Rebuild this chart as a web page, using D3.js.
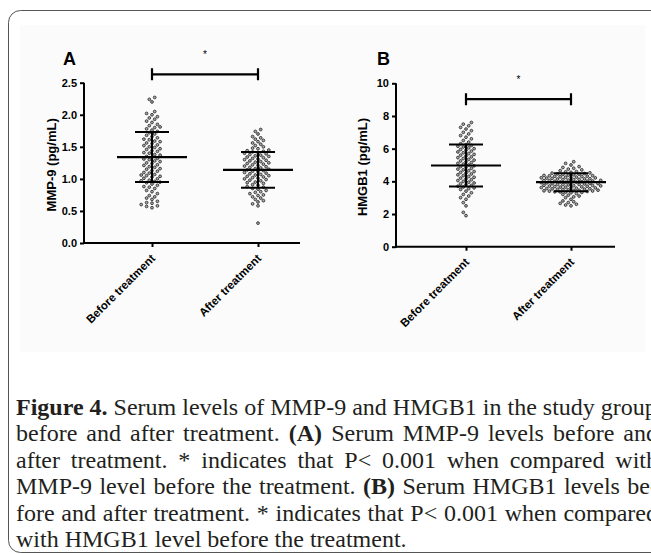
<!DOCTYPE html>
<html>
<head>
<meta charset="utf-8">
<script src="https://cdn.jsdelivr.net/npm/d3@7"></script>
<style>
  body { margin: 0; background: #fff; overflow: hidden; width: 651px; height: 554px; position: relative; }
  svg { position: absolute; left: 0; top: 0; }
  .caption { position: absolute; left: 16px; top: 394px; width: 642px;
    font-family: "Liberation Serif", "Times New Roman", serif; font-size: 24px; line-height: 26.4px; color: #231f20; }
  .caption div { white-space: nowrap; text-align: justify; text-align-last: justify; }
  .caption div.last { text-align-last: left; }
</style>
</head>
<body>
<div id="chart"></div>
<div class="caption">
  <div><b>Figure 4.</b> Serum levels of MMP-9 and HMGB1 in the study groups</div>
  <div>before and after treatment. <b>(A)</b> Serum MMP-9 levels before and</div>
  <div>after treatment. * indicates that P&lt; 0.001 when compared with</div>
  <div>MMP-9 level before the treatment. <b>(B)</b> Serum HMGB1 levels be-</div>
  <div>fore and after treatment. * indicates that P&lt; 0.001 when compared</div>
  <div class="last">with HMGB1 level before the treatment.</div>
</div>
<script>
// categories and values
var groups = ["Before treatment", "After treatment"];

var mmpBefore = [0.55,0.57,0.58,0.60,0.62,0.63,0.65,0.68,0.70,0.72,
  0.74,0.77,0.80,0.82,0.85,0.87,0.88,0.90,0.92,0.94,0.95,0.96,
  0.97,0.98,1.00,1.01,1.03,1.04,1.05,1.06,1.07,1.09,1.10,1.12,
  1.13,1.15,1.16,1.18,1.19,1.21,1.22,1.24,1.25,1.27,1.28,1.30,
  1.31,1.32,1.34,1.35,1.37,1.38,1.40,1.41,1.43,1.44,1.46,1.47,
  1.49,1.50,1.52,1.53,1.55,1.56,1.58,1.59,1.61,1.62,1.64,1.66,
  1.68,1.70,1.72,1.74,1.76,1.78,1.80,1.81,1.83,1.85,1.88,1.90,
  1.93,1.95,1.97,2.00,2.02,2.05,2.20,2.24,2.27];
var mmpAfter = [0.31,0.58,0.61,0.64,0.66,0.68,0.70,0.72,0.74,0.75,
  0.77,0.79,0.80,0.82,0.84,0.85,0.87,0.88,0.90,0.91,0.93,0.94,
  0.95,0.97,0.98,0.99,1.00,1.01,1.02,1.03,1.04,1.05,1.06,1.07,
  1.08,1.09,1.10,1.11,1.12,1.13,1.14,1.15,1.16,1.17,1.18,1.19,
  1.20,1.21,1.22,1.23,1.24,1.25,1.26,1.27,1.28,1.29,1.30,1.31,
  1.32,1.33,1.34,1.35,1.36,1.37,1.38,1.39,1.40,1.41,1.42,1.43,
  1.44,1.45,1.47,1.48,1.50,1.52,1.54,1.56,1.58,1.60,1.62,1.64,
  1.66,1.70,1.74,1.77];
var hmgbBefore = [1.90,2.10,2.50,2.70,2.90,3.00,3.10,3.20,3.30,3.40,
  3.50,3.55,3.60,3.65,3.70,3.75,3.80,3.85,3.90,3.95,4.00,4.05,
  4.10,4.15,4.20,4.25,4.30,4.35,4.40,4.45,4.50,4.55,4.60,4.65,
  4.70,4.75,4.80,4.85,4.90,4.95,5.00,5.05,5.10,5.15,5.20,5.25,
  5.30,5.35,5.40,5.45,5.50,5.55,5.60,5.65,5.70,5.75,5.80,5.85,
  5.90,5.95,6.00,6.05,6.10,6.15,6.20,6.25,6.30,6.40,6.50,6.60,
  6.70,6.80,6.90,7.00,7.10,7.20,7.30,7.40,7.50,7.60];
var hmgbAfter = [2.50,2.55,2.60,2.65,2.70,2.75,2.80,2.90,3.00,3.05,
  3.10,3.15,3.20,3.25,3.30,3.32,3.34,3.35,3.36,3.38,3.40,3.41,
  3.42,3.44,3.45,3.46,3.48,3.50,3.51,3.52,3.54,3.55,3.56,3.58,
  3.60,3.61,3.62,3.64,3.65,3.66,3.68,3.70,3.71,3.72,3.74,3.75,
  3.76,3.78,3.80,3.81,3.82,3.84,3.85,3.86,3.88,3.90,3.91,3.92,
  3.94,3.95,3.96,3.98,4.00,4.01,4.02,4.04,4.05,4.06,4.08,4.10,
  4.11,4.12,4.14,4.15,4.16,4.18,4.20,4.21,4.22,4.24,4.25,4.26,
  4.28,4.30,4.31,4.32,4.34,4.35,4.36,4.38,4.40,4.42,4.44,4.45,
  4.48,4.50,4.52,4.55,4.58,4.60,4.65,4.70,4.75,4.80,4.85,4.90,
  5.00,5.10,5.20];

// mean and SD of each group
var mmpMean = [1.34, 1.14], mmpSD = [0.39, 0.28];
var hmgbMean = [4.97, 3.95], hmgbSD = [1.28, 0.55];

var mmpTicks = [0, 0.5, 1.0, 1.5, 2.0, 2.5];
var hmgbTicks = [0, 2, 4, 6, 8, 10];

var svg = d3.select("#chart").append("svg")
  .attr("width", 651)
  .attr("height", 554);

// outer frame and figure area
svg.append("rect")
  .attr("x", 8.5).attr("y", 10.5)
  .attr("width", 720).attr("height", 542)
  .attr("rx", 12)
  .attr("fill", "#fff")
  .attr("stroke", "#555")
  .attr("stroke-width", 1);

svg.append("rect")
  .attr("x", 20).attr("y", 25)
  .attr("width", 625).attr("height", 327)
  .attr("fill", "#fbfbfb");

function drawPanel(opt) {
  var g = svg.append("g");

  var y = d3.scaleLinear().domain(opt.domain).range([opt.y0, opt.y1]);
  var x = d3.scalePoint().domain(groups).range(opt.xr);

  // y axis
  g.append("g")
    .attr("transform", "translate(" + opt.ax + ",0)")
    .call(d3.axisLeft(y).tickValues(opt.ticks).tickSize(4).tickPadding(3).tickFormat(opt.fmt))
    .call(function(a) {
      a.select(".domain").attr("stroke-width", 2).attr("d", "M0," + (opt.y0 + 1) + "V" + opt.y1);
      a.selectAll(".tick line").attr("stroke-width", 2);
      a.selectAll("text").attr("font-family", "Arial, 'Liberation Sans', sans-serif")
        .attr("font-weight", "bold").attr("font-size", 11).attr("fill", "#000");
    });

  // x axis
  g.append("g")
    .attr("transform", "translate(0," + opt.y0 + ")")
    .call(d3.axisBottom(x).tickSize(4).tickFormat(""))
    .call(function(a) {
      a.select(".domain").attr("stroke-width", 2).attr("d", "M" + opt.ax + ",0H" + opt.axEnd);
      a.selectAll(".tick line").attr("stroke-width", 2);
    });

  // rotated category labels
  g.selectAll(".xlab")
    .data(groups)
    .enter().append("text")
    .attr("class", "xlab")
    .attr("transform", function(d) { return "translate(" + (x(d) + 4) + "," + (opt.y0 + 16) + ") rotate(-45)"; })
    .attr("text-anchor", "end")
    .attr("font-family", "Arial, 'Liberation Sans', sans-serif")
    .attr("font-weight", "bold")
    .attr("font-size", 11.5)
    .text(function(d) { return d; });

  // y label
  g.append("text")
    .attr("transform", "translate(" + opt.labX + "," + ((opt.y0 + opt.y1) / 2 + 2) + ") rotate(-90)")
    .attr("text-anchor", "middle")
    .attr("font-family", "Arial, 'Liberation Sans', sans-serif")
    .attr("font-weight", "bold")
    .attr("font-size", 13)
    .text(opt.ylabel);

  // panel letter
  g.append("text")
    .attr("x", opt.letterX).attr("y", 65)
    .attr("font-family", "Arial, 'Liberation Sans', sans-serif")
    .attr("font-weight", "bold")
    .attr("font-size", 18)
    .text(opt.letter);

  // scatter dots, packed sideways so they don't overlap
  var r = 1.4, step = 2.7;
  opt.values.forEach(function(vals, gi) {
    var placed = [];
    var cx = x(groups[gi]);
    vals.slice().sort(d3.ascending).forEach(function(v) {
      var py = y(v);
      for (var k = 0; k < 60; k++) {
        var off = (k % 2 == 0 ? 1 : -1) * Math.ceil(k / 2) * step;
        var hit = placed.some(function(p) {
          return Math.hypot(p.x - off, p.y - py) < 2 * r + 0.6;
        });
        if (!hit) { placed.push({x: off, y: py}); break; }
      }
    });
    g.selectAll(".dot" + gi)
      .data(placed)
      .enter().append("circle")
      .attr("cx", function(d) { return cx + d.x; })
      .attr("cy", function(d) { return d.y; })
      .attr("r", r)
      .attr("fill", "#aaa")
      .attr("stroke", "#222")
      .attr("stroke-width", 0.8);
  });

  // mean and SD bars
  groups.forEach(function(grp, gi) {
    var cx = x(grp), m = opt.mean[gi], s = opt.sd[gi];
    g.append("line")
      .attr("x1", cx).attr("x2", cx)
      .attr("y1", y(m - s)).attr("y2", y(m + s))
      .attr("stroke", "#000").attr("stroke-width", 2);
    g.append("line")
      .attr("x1", cx - 35).attr("x2", cx + 35)
      .attr("y1", y(m)).attr("y2", y(m))
      .attr("stroke", "#000").attr("stroke-width", 2.2);
    [m - s, m + s].forEach(function(v) {
      g.append("line")
        .attr("x1", cx - 17).attr("x2", cx + 17)
        .attr("y1", y(v)).attr("y2", y(v))
        .attr("stroke", "#000").attr("stroke-width", 2);
    });
  });

  // significance bracket
  var by = y(opt.bracket);
  g.append("path")
    .attr("d", "M" + x(groups[0]) + "," + (by - 6) + "V" + (by + 6) +
      "M" + x(groups[0]) + "," + by + "H" + x(groups[1]) +
      "M" + x(groups[1]) + "," + (by - 6) + "V" + (by + 6))
    .attr("fill", "none")
    .attr("stroke", "#000")
    .attr("stroke-width", 2.2);
  g.append("text")
    .attr("x", (x(groups[0]) + x(groups[1])) / 2)
    .attr("y", y(opt.star) + 5)
    .attr("text-anchor", "middle")
    .attr("font-family", "Arial, 'Liberation Sans', sans-serif")
    .attr("font-size", 10)
    .text("*");
}

drawPanel({
  values: [mmpBefore, mmpAfter], mean: mmpMean, sd: mmpSD,
  domain: [0, 2.5], ticks: mmpTicks, fmt: d3.format(".1f"),
  y0: 243, y1: 82.7, ax: 84, axEnd: 300, xr: [152, 258],
  labX: 56, ylabel: "MMP-9 (pg/mL)", letter: "A", letterX: 63,
  bracket: 2.63, star: 2.96
});

drawPanel({
  values: [hmgbBefore, hmgbAfter], mean: hmgbMean, sd: hmgbSD,
  domain: [0, 10], ticks: hmgbTicks, fmt: d3.format("d"),
  y0: 246.7, y1: 83.3, ax: 396, axEnd: 615, xr: [466, 571],
  labX: 367, ylabel: "HMGB1 (pg/mL)", letter: "B", letterX: 377,
  bracket: 9.03, star: 10.3
});
</script>
</body>
</html>
